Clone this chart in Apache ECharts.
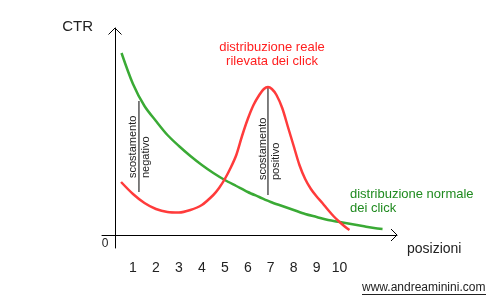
<!DOCTYPE html>
<html>
<head>
<meta charset="utf-8">
<script src="https://cdn.jsdelivr.net/npm/echarts@6/dist/echarts.min.js"></script>
<style>html,body{margin:0;padding:0;background:#fff}#c{width:500px;height:300px}</style>
</head>
<body>
<div id="c"></div>
<script>
// Tick labels on the position axis
var positionTicks = [1, 2, 3, 4, 5, 6, 7, 8, 9, 10];
// "distribuzione normale dei click" (green) : [posizione, CTR]
var normalCurve = [[0.5,182],[1.0,151],[1.5,129],[2.0,114],[2.5,100],[3.0,89],[3.5,79],[4.0,70],[4.5,62],[5.0,55],[5.5,49],[6.0,43],[6.5,38],[7.0,33],[7.5,29],[8.0,25],[8.5,21],[9.0,18],[9.5,15],[10.0,13],[10.5,11],[11.0,9],[11.5,7],[11.87,6]];
// "distribuzione reale rilevata dei click" (red) : [posizione, CTR]
var realCurve = [[0.48,53],[1.0,41],[1.5,32],[2.0,26],[2.5,23],[3.0,22.5],[3.5,25],[4.0,30],[4.5,40],[4.75,47],[5.0,56],[5.25,67],[5.5,80],[5.75,99],[6.0,116],[6.25,130],[6.5,140],[6.7,146],[6.88,148],[7.05,146],[7.25,140],[7.5,127],[7.75,108],[8.0,89],[8.25,70],[8.5,56],[8.75,46],[9.0,38.5],[9.25,32],[9.5,25],[9.75,18.5],[10.0,13],[10.25,8],[10.43,5]];
// deviation markers
var negativeGap = [[1.26,134],[1.26,43]];
var positiveGap = [[6.88,148],[6.88,40]];

var FONT = "'Liberation Sans', Arial, sans-serif";
var chart = echarts.init(document.getElementById('c'), null, {renderer:'canvas'});
chart.setOption({
  animation: false,
  backgroundColor: '#fff',
  grid: {left: 102, top: 28, width: 295, height: 220, containLabel: false},
  xAxis: {
    type: 'value', min: -0.35, max: 12.5,
    name: 'posizioni', nameLocation: 'end', nameGap: 10,
    nameTextStyle: {fontFamily: FONT, fontSize: 14, color: '#222', verticalAlign: 'top', padding: [7,0,0,0]},
    axisLine: {onZero: true, lineStyle: {color: '#000', width: 1}},
    axisTick: {show: false},
    splitLine: {show: false},
    axisLabel: {customValues: positionTicks, fontFamily: FONT, fontSize: 14, color: '#222', margin: 13}
  },
  yAxis: {
    type: 'value', min: -13, max: 207, offset: -13,
    name: 'CTR', nameLocation: 'end', nameGap: 1,
    nameTextStyle: {fontFamily: FONT, fontSize: 15, color: '#222', align: 'right', verticalAlign: 'middle', padding: [0,22,0,0]},
    axisLine: {show: true, lineStyle: {color: '#000', width: 1}},
    axisTick: {show: false},
    axisLabel: {show: false},
    splitLine: {show: false}
  },
  series: [
    {type: 'line', data: normalCurve, smooth: 0.3, showSymbol: false, lineStyle: {color: '#3aaa35', width: 2.5}, z: 3},
    {type: 'line', data: realCurve, smooth: 0.3, showSymbol: false, lineStyle: {color: '#ff3b3b', width: 2.5}, z: 3},
    {type: 'line', data: negativeGap, showSymbol: false, lineStyle: {color: '#000', width: 1}, z: 2},
    {type: 'line', data: positiveGap, showSymbol: false, lineStyle: {color: '#000', width: 1}, z: 2}
  ],
  graphic: [
    {type: 'polyline', shape: {points: [[108.5,34.5],[115,28],[121.5,34.5]]}, style: {stroke: '#000', lineWidth: 1, fill: null}},
    {type: 'polyline', shape: {points: [[391,229],[397,235],[391,241]]}, style: {stroke: '#000', lineWidth: 1, fill: null}},
    {type: 'text', x: 105, y: 244, style: {text: '0', fontFamily: FONT, fontSize: 12, fill: '#222', align: 'center', verticalAlign: 'middle'}},
    {type: 'text', x: 272, y: 40, style: {text: 'distribuzione reale\nrilevata dei click', fontFamily: FONT, fontSize: 13, lineHeight: 14, fill: '#ff2020', align: 'center', verticalAlign: 'top'}},
    {type: 'text', x: 350, y: 187, style: {text: 'distribuzione normale\ndei click', fontFamily: FONT, fontSize: 13, lineHeight: 14, fill: '#1f8a1f', align: 'left', verticalAlign: 'top'}},
    {type: 'text', x: 126.5, y: 178, rotation: Math.PI/2, style: {text: 'scostamento\nnegativo', fontFamily: FONT, fontSize: 11, lineHeight: 13, fill: '#222', align: 'left', verticalAlign: 'top'}},
    {type: 'text', x: 256.5, y: 180, rotation: Math.PI/2, style: {text: 'scostamento\npositivo', fontFamily: FONT, fontSize: 11, lineHeight: 13, fill: '#222', align: 'left', verticalAlign: 'top'}},
    {type: 'text', x: 362, y: 288, style: {text: 'www.andreaminini.com', fontFamily: FONT, fontSize: 12, fill: '#222', align: 'left', verticalAlign: 'middle'}},
    {type: 'line', shape: {x1: 362, y1: 294.5, x2: 486, y2: 294.5}, style: {stroke: '#222', lineWidth: 1}}
  ]
});
</script>
</body>
</html>
